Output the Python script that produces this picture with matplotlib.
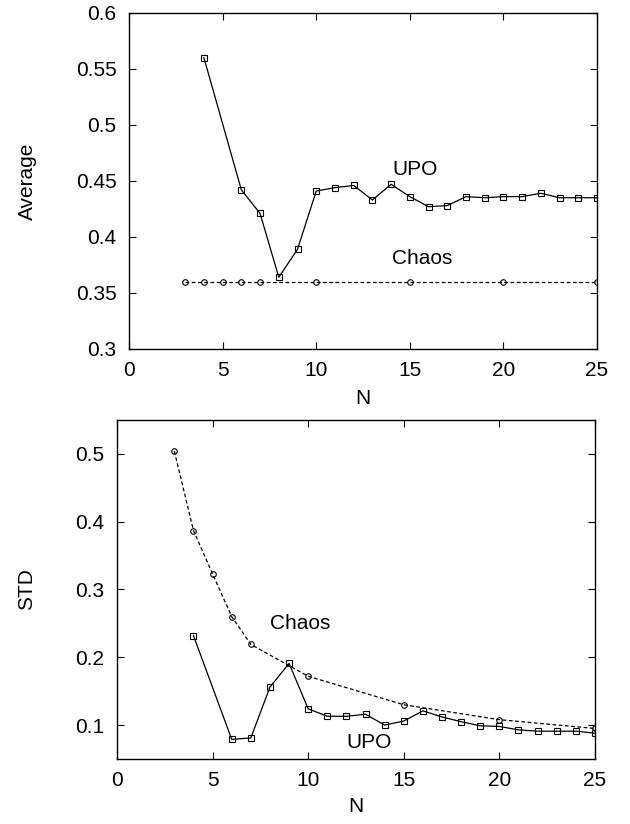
import matplotlib
matplotlib.use("Agg")
import matplotlib.pyplot as plt

plt.rcParams['font.family'] = ['Liberation Sans', 'DejaVu Sans']
plt.rcParams['font.size'] = 15

# top panel: averages
n_upo = [4, 6, 7, 8, 9, 10, 11, 12, 13, 14, 15, 16, 17, 18, 19, 20, 21, 22, 23, 24, 25]
avg_upo = [0.560, 0.442, 0.421, 0.364, 0.389, 0.441, 0.444, 0.446, 0.433, 0.447,
           0.436, 0.427, 0.428, 0.436, 0.435, 0.436, 0.436, 0.439, 0.435, 0.435, 0.435]
n_chaos = [3, 4, 5, 6, 7, 10, 15, 20, 25]
avg_chaos = [0.360, 0.360, 0.360, 0.360, 0.360, 0.360, 0.360, 0.360, 0.360]

# bottom panel: standard deviations
std_upo = [0.232, 0.079, 0.081, 0.156, 0.191, 0.124, 0.113, 0.113, 0.116, 0.100,
           0.106, 0.121, 0.112, 0.105, 0.099, 0.098, 0.093, 0.091, 0.091, 0.091, 0.088]
std_chaos = [0.504, 0.387, 0.323, 0.260, 0.219, 0.172, 0.130, 0.108, 0.095]

fig = plt.figure(figsize=(6.3, 8.24), dpi=100)
ax1 = fig.add_axes([0.2048, 0.5765, 0.7429, 0.4078])
ax2 = fig.add_axes([0.1857, 0.0789, 0.7587, 0.4114])

sq = dict(color='black', lw=0.9, marker='s', ms=4.5, mfc='none', mew=0.8)
ci = dict(color='black', lw=0.9, ls=(0, (3, 2)), marker='o', ms=4, mfc='none', mew=0.8)

ax1.plot(n_upo, avg_upo, **sq)
ax1.plot(n_chaos, avg_chaos, **ci)
ax1.set_xlim(0, 25)
ax1.set_ylim(0.3, 0.6)
ax1.set_xticks([0, 5, 10, 15, 20, 25])
ax1.set_yticks([0.3, 0.35, 0.4, 0.45, 0.5, 0.55, 0.6])
ax1.set_yticklabels(['0.3', '0.35', '0.4', '0.45', '0.5', '0.55', '0.6'])
ax1.set_xlabel('N', labelpad=6)
ax1.set_ylabel('Average', labelpad=28)
ax1.text(15.3, 0.460, 'UPO', ha='center', va='center')
ax1.text(15.65, 0.381, 'Chaos', ha='center', va='center')

ax2.plot(n_upo, std_upo, **sq)
ax2.plot(n_chaos, std_chaos, **ci)
ax2.set_xlim(0, 25)
ax2.set_ylim(0.05, 0.55)
ax2.set_xticks([0, 5, 10, 15, 20, 25])
ax2.set_yticks([0.1, 0.2, 0.3, 0.4, 0.5])
ax2.set_xlabel('N', labelpad=5)
ax2.set_ylabel('STD', labelpad=28)
ax2.text(9.6, 0.250, 'Chaos', ha='center', va='center')
ax2.text(13.2, 0.075, 'UPO', ha='center', va='center')

for ax in (ax1, ax2):
    ax.tick_params(direction='in', top=True, right=True, length=5, width=0.8)
    ax.tick_params(axis='x', pad=9)
    ax.tick_params(axis='y', pad=9)
    for s in ax.spines.values():
        s.set_linewidth(1.0)

fig.savefig('out.png', dpi=100)
